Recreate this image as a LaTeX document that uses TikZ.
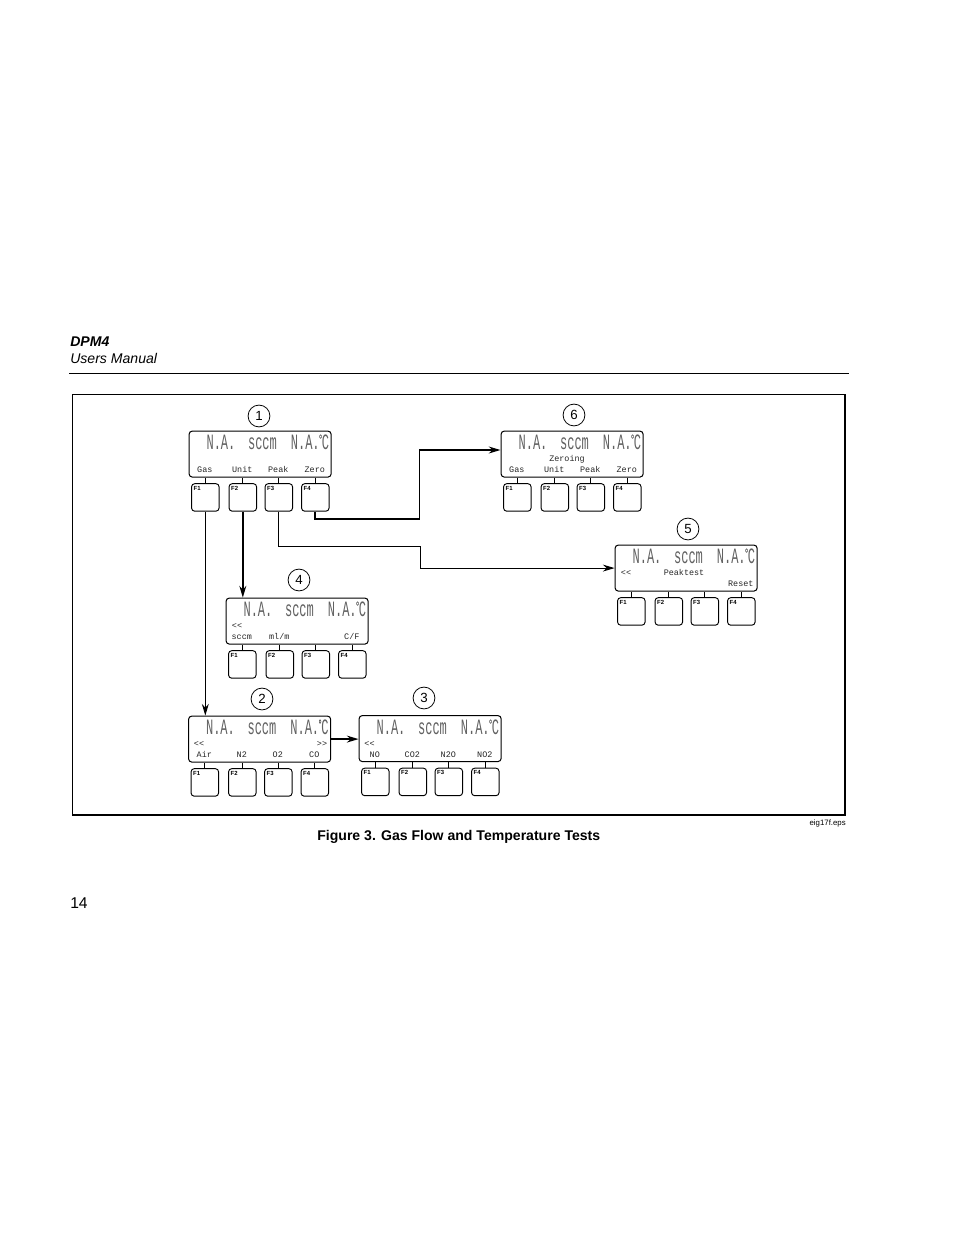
\documentclass[tikz,border=0pt]{standalone}
\usepackage{fontspec}
\setmainfont{Liberation Sans}
\newfontfamily\lcdfont[FakeStretch=0.55]{Liberation Mono}
\newfontfamily\smallfont{Liberation Mono}
\usetikzlibrary{arrows.meta}
\tikzset{
	lcdbox/.style={draw,rounded corners=2pt,line width=0.65pt,minimum width=90.9pt,minimum height=29.4pt,anchor=north west,inner sep=0pt},
	fbutton/.style={draw,rounded corners=2pt,line width=0.6pt,minimum width=17.6pt,minimum height=17.6pt,anchor=north west,inner sep=0pt},
	ftag/.style={font=\fontsize{3.8}{4}\selectfont\bfseries,inner sep=0pt,anchor=north west},
	lcdbig/.style={font=\lcdfont\fontsize{14}{14}\selectfont,text=black!62,inner sep=0pt,anchor=base},
	lcdsmall/.style={font=\smallfont\fontsize{5.4}{6}\selectfont,text=black!85,inner sep=0pt,anchor=base},
	stepnum/.style={draw,circle,line width=0.5pt,minimum size=14pt,inner sep=0pt,font=\fontsize{8.5}{10}\selectfont},
	stub/.style={line width=0.7pt},
	flow/.style={->,line width=0.6pt},
	heavyflow/.style={->,line width=1.1pt},
	heading/.style={inner sep=0pt,anchor=base west}
}
\newcommand{\lcddegree}{\kern-0.9pt{\color{black}\fontsize{9}{9}\selectfont\raisebox{3.2pt}{°}}\kern-0.6pt}
% name, left, top, then the four soft key labels
\newcommand{\lcdpanel}[7]{
	\node[lcdbox] (#1) at (#2-0.4,#3-0.4) {};
	\node[lcdbig] (#1na) at (#2+32,#3+18.5) {N.A.};
	\node[lcdbig] (#1unit) at (#2+73.5,#3+18.5) {sccm};
	\node[lcdbig,anchor=base west] (#1nb) at (#2+101.5,#3+18.5) {N.A.\lcddegree C};
	\foreach \k/\xb/\lab in {1/2.5/{#4},2/40/{#5},3/76/{#6},4/112.5/{#7}}{
		\node[fbutton] (#1f\k) at (#2+\xb-0.4,#3+52.2) {};
		\node[ftag] (#1t\k) at (#2+\xb+1.9,#3+55) {F\k};
		\node[lcdsmall] (#1l\k) at (#2+\xb+13.3,#3+41.5) {\lab};
		\draw[stub] (#1f\k.north) -- (#1f\k.north |- #1.south);
	}
}
\begin{document}
\begin{tikzpicture}[x=0.64pt,y=-0.64pt,>={Stealth[length=7.5pt,width=4.4pt]}]
	\useasboundingbox (0,0) rectangle (954,1235);
	% page header
	\node[heading,font=\fontsize{9}{11}\selectfont\bfseries\itshape] (title) at (70,346) {DPM4};
	\node[heading,font=\fontsize{9}{11}\selectfont\itshape] (manual) at (70,363) {Users Manual};
	\draw[line width=0.6pt] (69,373) -- (849,373);
	% frame
	\draw[line width=0.75pt] (72.5,394.5) rectangle (845,815);
	% panels
	\lcdpanel{pa}{189}{431}{Gas}{Unit}{Peak}{Zero}
	\lcdpanel{pb}{188.5}{716}{Air}{N2}{O2}{CO}
	\lcdpanel{pc}{359}{715.5}{NO}{CO2}{N2O}{NO2}
	\lcdpanel{pd}{226}{598}{sccm}{ml/m}{}{C/F}
	\lcdpanel{pe}{615}{545}{}{}{}{Reset}
	\lcdpanel{pf}{501}{431}{Gas}{Unit}{Peak}{Zero}
	% second line of the displays
	\node[lcdsmall] (pbleft) at (199,746) {<<};
	\node[lcdsmall] (pbright) at (322,746) {>>};
	\node[lcdsmall] (pcleft) at (369.5,746) {<<};
	\node[lcdsmall] (pdleft) at (237,628) {<<};
	\node[lcdsmall] (peleft) at (626,575) {<<};
	\node[lcdsmall] (pemid) at (684,575) {Peaktest};
	\node[lcdsmall] (pfmid) at (567,461) {Zeroing};
	% numbers
	\node[stepnum] (na) at (259,416) {1};
	\node[stepnum] (nb) at (262,699) {2};
	\node[stepnum] (nc) at (424,698) {3};
	\node[stepnum] (nd) at (299,580) {4};
	\node[stepnum] (ne) at (688,529) {5};
	\node[stepnum] (nf) at (574,415) {6};
	% connectors
	\coordinate (peakA) at (420,546);
	\coordinate (zeroA) at (419.5,519);
	\coordinate (zeroB) at (500.5,450);
	\draw[flow] (paf1.south) -- (paf1.south |- pb.north);
	\draw[heavyflow] (paf2.south) -- (paf2.south |- pd.north);
	\draw[flow] (paf3.south) -- (paf3.south |- peakA) -- (peakA) -- (peakA |- pe.west) -- (pe.west);
	\draw[heavyflow] (paf4.south) -- (paf4.south |- zeroA) -- (zeroA) -- (zeroA |- zeroB) -- (zeroB);
	\draw[heavyflow] (pb.east) -- (pb.east -| pc.west);
	% caption
	\node[heading,font=\fontsize{9}{11}\selectfont\bfseries] (caption) at (317,840) {Figure 3. Gas Flow and Temperature Tests};
	\node[font=\fontsize{5}{6}\selectfont,inner sep=0pt,anchor=base east] (epsname) at (846,825) {eig17f.eps};
	\node[heading,font=\fontsize{10}{12}\selectfont] (pagenum) at (70,908) {14};
\end{tikzpicture}
\end{document}
